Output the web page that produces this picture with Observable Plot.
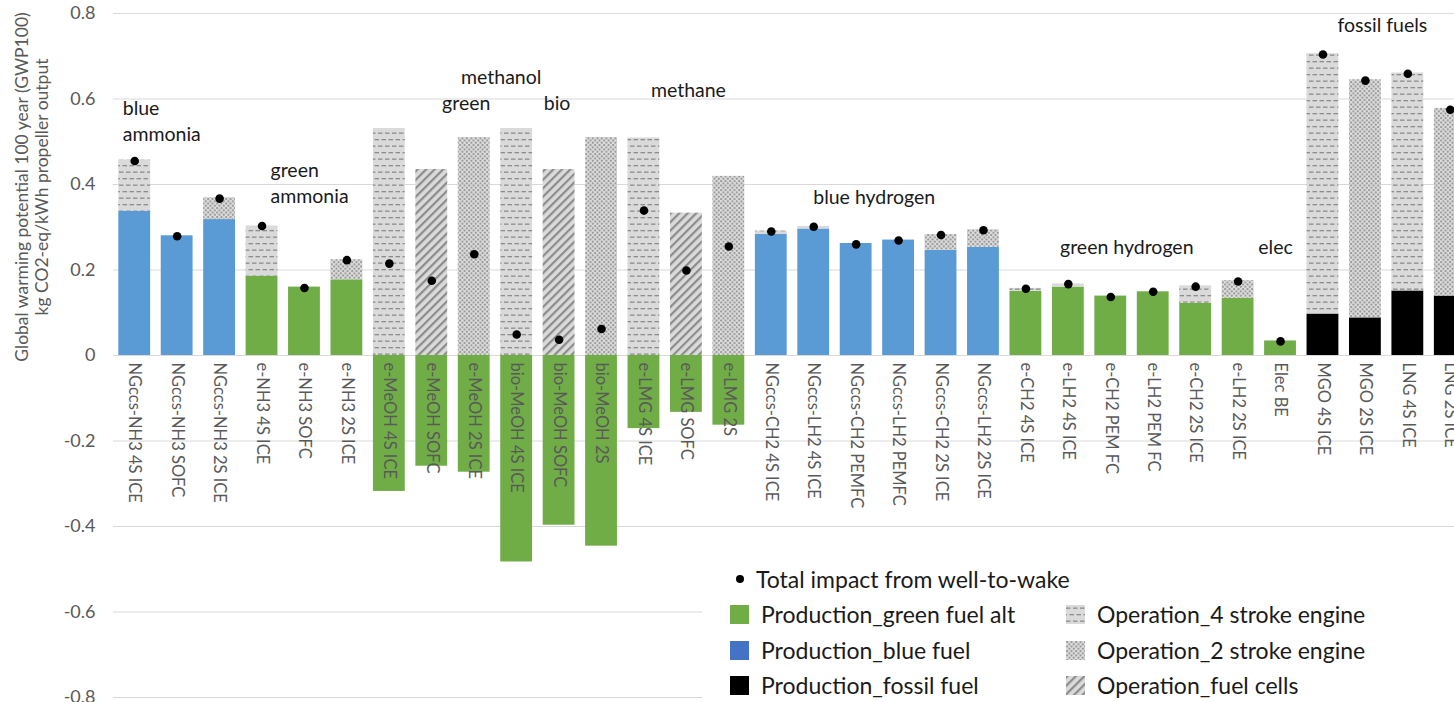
<!DOCTYPE html>
<html><head><meta charset="utf-8">
<script src="https://cdn.jsdelivr.net/npm/d3@7"></script>
<script src="https://cdn.jsdelivr.net/npm/@observablehq/plot@0.6"></script>
<style>
html,body{margin:0;padding:0;background:#fff;overflow:hidden;width:1454px;height:702px;}
#wrap{position:relative;width:1471px;height:702px;}
#chart svg{max-width:none !important;display:block;}
#legend{position:absolute;left:702px;top:556px;width:769px;height:146px;background:#fff;font-family:Lato,sans-serif;font-size:23px;color:#1a1a1a;}
.li{position:absolute;display:flex;align-items:center;height:30px;white-space:nowrap;}
.sw{width:19px;height:19px;display:block;margin-right:12px;flex:none;}
.dot{width:8px;height:8px;border-radius:50%;background:#000;margin-right:12px;margin-left:-4px;flex:none;}
</style></head>
<body>
<svg width="0" height="0" style="position:absolute;left:0;top:0">
  <defs>
    <pattern id="p4s" patternUnits="userSpaceOnUse" width="7" height="13">
      <rect width="7" height="13" fill="#DADADA"/>
      <rect x="0" y="2.5" width="4.5" height="1.3" fill="#8C8C8C"/>
      <rect x="3.5" y="9" width="4.5" height="1.3" fill="#8C8C8C"/>
      <rect x="-3.5" y="9" width="4.5" height="1.3" fill="#8C8C8C"/>
    </pattern>
    <pattern id="p2s" patternUnits="userSpaceOnUse" width="4.5" height="4.5">
      <rect width="4.5" height="4.5" fill="#DDDDDD"/>
      <circle cx="1.1" cy="1.1" r="1.0" fill="#8A8A8A"/>
      <circle cx="3.35" cy="3.35" r="1.0" fill="#8A8A8A"/>
    </pattern>
    <pattern id="pfc" patternUnits="userSpaceOnUse" width="6" height="6" patternTransform="rotate(45)">
      <rect width="6" height="6" fill="#DADADA"/>
      <rect x="0" y="0" width="2.2" height="6" fill="#8C8C8C"/>
    </pattern>
  </defs>
</svg>
<div id="wrap"><div id="chart"></div><div id="legend"></div></div>
<script>
// ---- data ----
const categories = [
  "NGccs-NH3 4S ICE","NGccs-NH3 SOFC","NGccs-NH3 2S ICE",
  "e-NH3 4S ICE","e-NH3 SOFC","e-NH3 2S ICE",
  "e-MeOH 4S ICE","e-MeOH SOFC","e-MeOH 2S ICE",
  "bio-MeOH 4S ICE","bio-MeOH SOFC","bio-MeOH 2S",
  "e-LMG 4S ICE","e-LMG SOFC","e-LMG 2S",
  "NGccs-CH2 4S ICE","NGccs-LH2 4S ICE","NGccs-CH2 PEMFC","NGccs-LH2 PEMFC","NGccs-CH2 2S ICE","NGccs-LH2 2S ICE",
  "e-CH2 4S ICE","e-LH2 4S ICE","e-CH2 PEM FC","e-LH2 PEM FC","e-CH2 2S ICE","e-LH2 2S ICE",
  "Elec BE","MGO 4S ICE","MGO 2S ICE","LNG 4S ICE","LNG 2S ICE"
];
const G = "Production_green fuel alt", B = "Production_blue fuel", F = "Production_fossil fuel";
const O4 = "Operation_4 stroke engine", O2 = "Operation_2 stroke engine", OF = "Operation_fuel cells";
const productionType = [B,B,B, G,G,G, G,G,G, G,G,G, G,G,G, B,B,B,B,B,B, G,G,G,G,G,G, G, F,F,F,F];
const production = [0.337,0.280,0.318, 0.185,0.160,0.177, -0.318,-0.259,-0.273, -0.483,-0.397,-0.446,
  -0.171,-0.133,-0.163, 0.283,0.296,0.262,0.270,0.246,0.253, 0.150,0.160,0.139,0.149,0.122,0.134,
  0.034, 0.097,0.088,0.151,0.139];
const operationType = [O4,OF,O2, O4,OF,O2, O4,OF,O2, O4,OF,O2, O4,OF,O2, O4,O4,OF,OF,O2,O2,
  O4,O4,OF,OF,O4,O2, OF, O4,O2,O4,O2];
const operation = [0.120,0,0.051, 0.118,0,0.047, 0.531,0.435,0.510, 0.531,0.435,0.510, 0.509,0.333,0.419,
  0.008,0.006,0,0,0.037,0.041, 0.007,0.007,0,0,0.041,0.041, 0, 0.609,0.557,0.510,0.439];
const total = [0.455,0.279,0.367, 0.303,0.158,0.223, 0.215,0.175,0.237, 0.049,0.037,0.062, 0.339,0.199,0.255,
  0.290,0.301,0.260,0.269,0.282,0.293, 0.156,0.167,0.137,0.149,0.161,0.173, 0.033, 0.704,0.643,0.659,0.575];
const yTicks = [-0.8,-0.6,-0.4,-0.2,0,0.2,0.4,0.6,0.8];
const seriesNames = [G,B,F,O4,O2,OF];
const seriesFills = ["#70AD47","#5B9BD5","#000000","url(#p4s)","url(#p2s)","url(#pfc)"];
const legendFills = ["#70AD47","#4472C4","#000000","url(#p4s)","url(#p2s)","url(#pfc)"];
const totalLabel = "Total impact from well-to-wake";
const yTitle = ["Global warming potential 100 year (GWP100)","kg CO2-eq/kWh propeller output"];
const annotations = [
  {text:"blue", cat:"NGccs-NH3 4S ICE", y:0.577, dx:-12, anchor:"start"},
  {text:"ammonia", cat:"NGccs-NH3 4S ICE", y:0.516, dx:-12, anchor:"start"},
  {text:"green", cat:"e-NH3 4S ICE", y:0.432, dx:8.5, anchor:"start"},
  {text:"ammonia", cat:"e-NH3 4S ICE", y:0.372, dx:8.5, anchor:"start"},
  {text:"methanol", cat:"e-MeOH 2S ICE", y:0.650, dx:27, anchor:"middle"},
  {text:"green", cat:"e-MeOH 2S ICE", y:0.588, dx:-8, anchor:"middle"},
  {text:"bio", cat:"bio-MeOH SOFC", y:0.588, dx:-2, anchor:"middle"},
  {text:"methane", cat:"e-LMG SOFC", y:0.619, dx:2, anchor:"middle"},
  {text:"blue hydrogen", cat:"NGccs-CH2 PEMFC", y:0.370, dx:18, anchor:"middle"},
  {text:"green hydrogen", cat:"e-CH2 PEM FC", y:0.252, dx:16, anchor:"middle"},
  {text:"elec", cat:"Elec BE", y:0.252, dx:-5, anchor:"middle"},
  {text:"fossil fuels", cat:"MGO 2S ICE", y:0.772, dx:17, anchor:"middle"}
];

// ---- tables ----
const rows = [];
categories.forEach((c, i) => {
  rows.push({cat: c, series: productionType[i], value: production[i]});
  rows.push({cat: c, series: operationType[i], value: operation[i]});
});
const totals = categories.map((c, i) => ({cat: c, total: total[i]}));

const chart = Plot.plot({
  width: 1471, height: 702,
  marginLeft: 113, marginRight: 0, marginTop: 13, marginBottom: 5,
  style: {fontFamily: "Lato, sans-serif", background: "transparent"},
  x: {domain: categories, paddingInner: 0.25, paddingOuter: 0.125, round: false, axis: null},
  y: {domain: [-0.8, 0.8], axis: null},
  color: {domain: seriesNames, range: seriesFills},
  marks: [
    Plot.ruleY(yTicks, {stroke: "#D9D9D9", strokeWidth: 1}),
    Plot.barY(rows, Plot.stackY({x: "cat", y: "value", fill: "series", order: null})),
    Plot.text(categories, {x: d => d, y: 0, text: d => d, rotate: 90, textAnchor: "start",
      lineAnchor: "middle", dy: 7, fill: "#595959", fontSize: 16.5}),
    Plot.dot(totals, {x: "cat", y: "total", r: 4.3, fill: "#000", stroke: null}),
    Plot.axisY({ticks: yTicks, tickSize: 0, tickPadding: 18, tickFormat: d => String(d),
      fontSize: 18, color: "#595959", label: null}),
    ...annotations.map(a => Plot.text([a], {x: "cat", y: "y", text: "text", dx: a.dx,
      textAnchor: a.anchor, lineAnchor: "middle", fill: "#1a1a1a", fontSize: 19.5}))
  ]
});
document.getElementById("chart").appendChild(chart);

// y-axis title
const svg = d3.select(chart);
const t = svg.append("text")
  .attr("transform", "translate(0,187) rotate(-90)")
  .attr("text-anchor", "middle").attr("fill", "#595959")
  .attr("font-family", "Lato, sans-serif").attr("font-size", 17.5);
t.append("tspan").attr("x", 0).attr("y", 28).text(yTitle[0]);
t.append("tspan").attr("x", 0).attr("y", 48).text(yTitle[1]);

// legend
const legend = document.getElementById("legend");
function addItem(left, top, swatchHtml, label) {
  const d = document.createElement("div");
  d.className = "li";
  d.style.left = left + "px"; d.style.top = top + "px";
  d.innerHTML = swatchHtml + "<span></span>";
  d.querySelector("span").textContent = label;
  legend.appendChild(d);
}
const sw = f => `<svg class="sw" width="19" height="19"><rect width="19" height="19" fill="${f}"/></svg>`;
addItem(38, 8, `<div class="dot"></div>`, totalLabel);
const tops = [43, 79, 114];
[0,1,2].forEach(k => addItem(28, tops[k], sw(legendFills[k]), seriesNames[k]));
[3,4,5].forEach(k => addItem(364, tops[k-3], sw(legendFills[k]), seriesNames[k]));
</script>
</body></html>
